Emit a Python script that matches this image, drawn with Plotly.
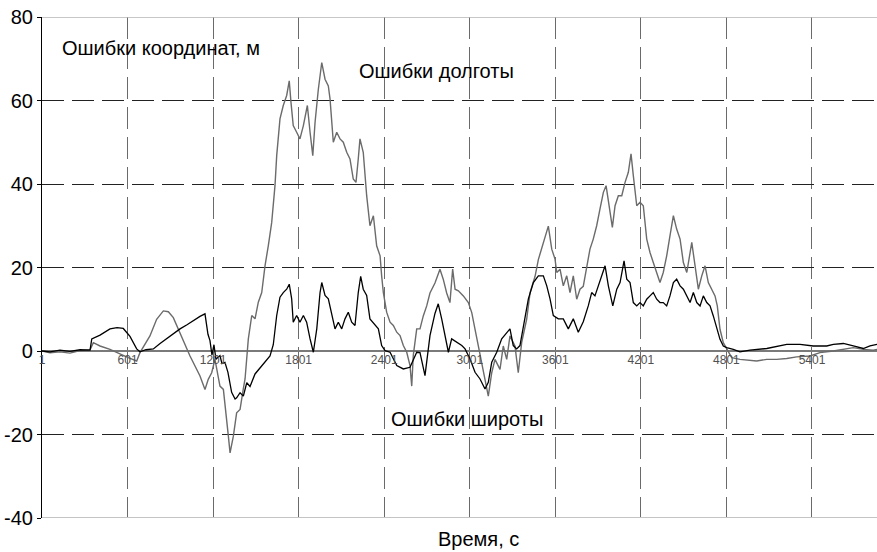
import plotly.graph_objects as go

# Time, s (latitude error series)
lat_t = [1, 57, 127, 197, 268, 338, 350, 408, 478, 527, 571, 618, 665, 688, 730, 782, 829, 876, 920, 969,
         1018, 1062, 1109, 1144, 1156, 1165, 1179, 1193, 1207, 1221, 1235, 1249, 1263, 1284, 1305, 1331,
         1355, 1366, 1390, 1413, 1437, 1460, 1495, 1553, 1600, 1623, 1647, 1670, 1693, 1717, 1735, 1752,
         1763, 1787, 1810, 1834, 1857, 1881, 1904, 1928, 1951, 1963, 1986, 2009, 2033, 2056, 2079, 2103,
         2126, 2149, 2173, 2196, 2219, 2236, 2254, 2278, 2301, 2336, 2360, 2383, 2407, 2442, 2465, 2489,
         2535, 2582, 2629, 2652, 2687, 2722, 2757, 2780, 2804, 2827, 2851, 2874, 2909, 2945, 2968, 3003,
         3038, 3073, 3108, 3131, 3155, 3190, 3225, 3260, 3283, 3306, 3330, 3353, 3388, 3412, 3447, 3482,
         3517, 3541, 3564, 3587, 3622, 3657, 3692, 3727, 3762, 3797, 3832, 3856, 3879, 3903, 3926, 3950,
         3973, 4004, 4032, 4055, 4083, 4102, 4125, 4148, 4172, 4195, 4218, 4242, 4265, 4288, 4312, 4335,
         4358, 4382, 4405, 4429, 4452, 4476, 4499, 4523, 4546, 4569, 4593, 4616, 4639, 4663, 4686, 4709,
         4733, 4756, 4779, 4803, 4849, 4896, 4966, 5084, 5224, 5317, 5410, 5504, 5551, 5621, 5691, 5761,
         5808, 5857]
# Latitude error, m
lat_err = [0.0, -0.2, 0.2, -0.1, 0.3, 0.2, 2.9, 3.8, 5.3, 5.6, 5.4, 3.5, 0.5, -0.2, 0.3, 0.5, 1.8, 3.0, 4.2, 5.3,
           6.3, 7.3, 8.3, 8.9, 6.1, 4.0, 2.5, -1.0, 1.5, -2.0, -1.5, -1.1, -3.0, -2.7, -5.1, -9.9,
           -11.5, -11.2, -10.0, -10.8, -7.6, -8.5, -5.5, -3.0, -1.2, 1.5, 8.5, 12.9, 14.0, 14.8, 16.0, 12.5,
           6.9, 8.5, 6.9, 8.5, 6.9, 2.9, -0.3, 5.3, 14.0, 16.4, 13.3, 12.5, 8.5, 5.3, 6.9, 5.3,
           7.7, 9.3, 6.9, 6.1, 14.0, 17.9, 14.8, 13.3, 7.7, 6.1, 5.3, 1.3, 0.1, -0.3, -1.9, -3.5,
           -4.3, -3.9, -0.3, -0.4, -5.9, 3.7, 9.0, 11.3, 7.7, 3.7, -0.3, 2.9, 2.1, 1.3, 0.5, -1.9,
           -5.1, -6.7, -9.1, -7.5, -2.7, -0.3, 2.9, 4.5, 5.3, 1.3, 0.5, 1.3, 7.7, 12.5, 16.4, 18.0,
           18.0, 15.6, 12.5, 8.5, 7.7, 7.7, 5.3, 7.7, 4.5, 7.0, 10.8, 14.0, 13.2, 15.6, 18.0, 20.4,
           15.6, 10.8, 14.8, 16.4, 21.6, 17.2, 16.4, 11.6, 10.8, 11.6, 10.8, 12.4, 13.2, 14.0, 12.4, 11.6,
           11.6, 10.8, 13.2, 16.4, 17.2, 15.6, 14.8, 13.2, 11.6, 14.0, 11.6, 10.8, 13.2, 11.6, 10.8, 8.4,
           5.2, 2.8, 1.2, 0.8, 0.4, -0.2, 0.2, 0.6, 1.6, 1.6, 1.2, 1.2, 1.6, 1.8, 1.2, 0.6,
           1.2, 1.6]

# Time, s (longitude error series)
lon_t = [1, 57, 127, 197, 268, 338, 361, 408, 478, 548, 606, 665, 688, 758, 805, 852, 887, 922, 969, 1039,
         1109, 1144, 1167, 1191, 1214, 1226, 1249, 1273, 1284, 1308, 1320, 1343, 1366, 1390, 1413, 1425,
         1448, 1472, 1495, 1518, 1542, 1565, 1588, 1612, 1635, 1647, 1670, 1693, 1717, 1735, 1747, 1763,
         1787, 1810, 1834, 1862, 1881, 1900, 1916, 1939, 1963, 1986, 2009, 2021, 2044, 2068, 2091, 2114,
         2138, 2161, 2184, 2203, 2219, 2231, 2254, 2266, 2278, 2301, 2325, 2348, 2372, 2383, 2395, 2418,
         2442, 2465, 2489, 2512, 2535, 2559, 2582, 2594, 2605, 2629, 2652, 2675, 2699, 2722, 2757, 2792,
         2815, 2839, 2862, 2881, 2898, 2921, 2956, 2991, 3015, 3038, 3061, 3085, 3108, 3131, 3155, 3178,
         3213, 3236, 3260, 3283, 3318, 3341, 3365, 3400, 3424, 3459, 3482, 3517, 3552, 3576, 3599, 3611,
         3634, 3657, 3681, 3704, 3727, 3751, 3774, 3797, 3821, 3844, 3867, 3891, 3914, 3938, 3957, 3973,
         4001, 4020, 4043, 4067, 4090, 4113, 4132, 4148, 4172, 4195, 4218, 4242, 4265, 4288, 4312, 4335,
         4358, 4382, 4405, 4429, 4452, 4476, 4499, 4523, 4558, 4581, 4604, 4628, 4651, 4674, 4698, 4721,
         4737, 4756, 4779, 4803, 4838, 4896, 4966, 5013, 5084, 5154, 5224, 5294, 5387, 5457, 5551, 5621,
         5691, 5761, 5831, 5857]
# Longitude error, m
lon_err = [0.0, -0.4, -0.2, -0.5, 0.1, 0.3, 2.0, 1.2, 0.4, -0.8, -1.6, -2.4, -0.4, 3.6, 7.6, 9.6, 9.4, 8.0, 4.4, -1.2,
           -6.0, -9.2, -6.8, -5.2, -2.0, -4.4, -8.4, -9.2, -12.4, -20.4, -24.4, -20.4, -14.8, -14.0, -9.0, -6.7,
           2.9, 8.5, 7.7, 11.7, 14.0, 20.4, 25.2, 30.8, 39.6, 46.8, 55.6, 58.8, 61.2, 64.7, 59.6, 54.0,
           52.4, 50.8, 54.0, 58.8, 52.4, 46.8, 54.8, 62.7, 69.1, 65.1, 63.5, 60.4, 50.0, 52.4, 50.8, 50.0,
           47.6, 46.0, 41.2, 40.4, 46.0, 50.8, 47.6, 41.2, 37.2, 30.0, 32.4, 25.2, 22.8, 18.0, 14.0, 9.3,
           6.9, 6.1, 4.5, 3.7, 1.3, -0.3, -3.5, -8.4, -1.0, 5.3, 5.3, 8.4, 10.8, 13.9, 16.3, 19.6,
           17.2, 13.9, 11.6, 19.6, 14.8, 14.4, 13.2, 11.6, 9.2, 5.2, 1.2, -2.8, -7.6, -10.8, -5.2, -2.0,
           -4.4, 1.2, -2.0, 3.6, 1.2, -5.2, 2.0, 7.6, 14.0, 17.9, 21.9, 25.9, 29.9, 24.4, 22.0, 18.8,
           19.6, 15.6, 18.0, 14.0, 18.0, 12.4, 14.8, 15.5, 19.6, 24.4, 26.8, 30.0, 34.0, 38.0, 39.6, 35.6,
           29.6, 34.8, 37.2, 37.2, 40.4, 42.8, 47.2, 42.0, 34.8, 35.6, 34.8, 26.8, 23.6, 21.2, 18.8, 16.4,
           18.8, 22.8, 27.6, 32.4, 29.2, 26.8, 21.2, 18.8, 26.0, 20.4, 14.8, 18.0, 20.4, 16.4, 14.8, 13.2,
           10.8, 5.2, 2.0, 0.4, -1.6, -2.0, -2.2, -2.4, -2.0, -2.0, -1.8, -1.4, -1.2, -0.4, 0.0, 0.4,
           0.8, 0.4, 0.2, 0.4]

x_ticks = [1, 601, 1201, 1801, 2401, 3001, 3601, 4201, 4801, 5401]
x_tick_labels = [str(v) for v in x_ticks]
y_ticks = [-40, -20, 0, 20, 40, 60, 80]
y_tick_labels = [str(v) for v in y_ticks]

FONT = "Liberation Sans Narrow, Arial Narrow, Liberation Sans, Arial, sans-serif"

fig = go.Figure()
fig.add_trace(go.Scatter(x=lon_t, y=lon_err, mode="lines", name="Ошибки долготы",
                         line=dict(color="#6b6b6b", width=1.4)))
fig.add_trace(go.Scatter(x=lat_t, y=lat_err, mode="lines", name="Ошибки широты",
                         line=dict(color="#000000", width=1.3)))

fig.update_layout(
    width=877, height=552,
    margin=dict(l=42, r=0, t=17, b=34, autoexpand=False),
    paper_bgcolor="white", plot_bgcolor="white",
    showlegend=False,
    font=dict(family=FONT, color="#000000"),
    xaxis=dict(
        range=[1, 5857], automargin=False,
        tickvals=x_ticks, ticktext=x_tick_labels,
        anchor="free", position=40 / 120,
        showline=False, ticks="", zeroline=False,
        showgrid=True, gridcolor="#6a6a6a", gridwidth=1.2, griddash="22px,8px",
        tickfont=dict(size=12, color="#505050", family=FONT),
    ),
    yaxis=dict(
        range=[-40, 80], automargin=False,
        tickvals=y_ticks, ticktext=y_tick_labels,
        showline=True, linecolor="#000000", linewidth=1.2,
        ticks="outside", ticklen=4, tickcolor="#000000",
        showgrid=True, gridcolor="#222222", gridwidth=1.2, griddash="22px,8px",
        zeroline=True, zerolinecolor="#7a7a7a", zerolinewidth=1.5,
        tickfont=dict(size=20, color="#000000", family=FONT),
    ),
    shapes=[
        dict(type="line", xref="paper", yref="y", x0=0, x1=1, y0=80, y1=80,
             line=dict(color="#b4b4b4", width=1.5), layer="above"),
        dict(type="line", xref="paper", yref="y", x0=0, x1=1, y0=-40, y1=-40,
             line=dict(color="#c4c4c4", width=2), layer="above"),
    ],
    annotations=[
        dict(text="Ошибки координат, м", xref="paper", yref="paper",
             x=(60 - 42) / 835, y=1 - (48 - 17) / 501, xanchor="left", yanchor="middle",
             showarrow=False, font=dict(size=20, family=FONT)),
        dict(text="Ошибки долготы", xref="paper", yref="paper",
             x=(357 - 42) / 835, y=1 - (71 - 17) / 501, xanchor="left", yanchor="middle",
             showarrow=False, font=dict(size=20, family=FONT)),
        dict(text="Ошибки широты", xref="paper", yref="paper",
             x=(389 - 42) / 835, y=1 - (419 - 17) / 501, xanchor="left", yanchor="middle",
             showarrow=False, font=dict(size=20, family=FONT)),
        dict(text="Время, с", xref="paper", yref="paper",
             x=(478 - 42) / 835, y=1 - (539 - 17) / 501, xanchor="center", yanchor="middle",
             showarrow=False, font=dict(size=20, family=FONT)),
    ],
)

fig.write_html(
    "out.html",
    config={"displayModeBar": False},
    post_script="document.body.style.margin='0';document.body.style.overflow='hidden';",
)
